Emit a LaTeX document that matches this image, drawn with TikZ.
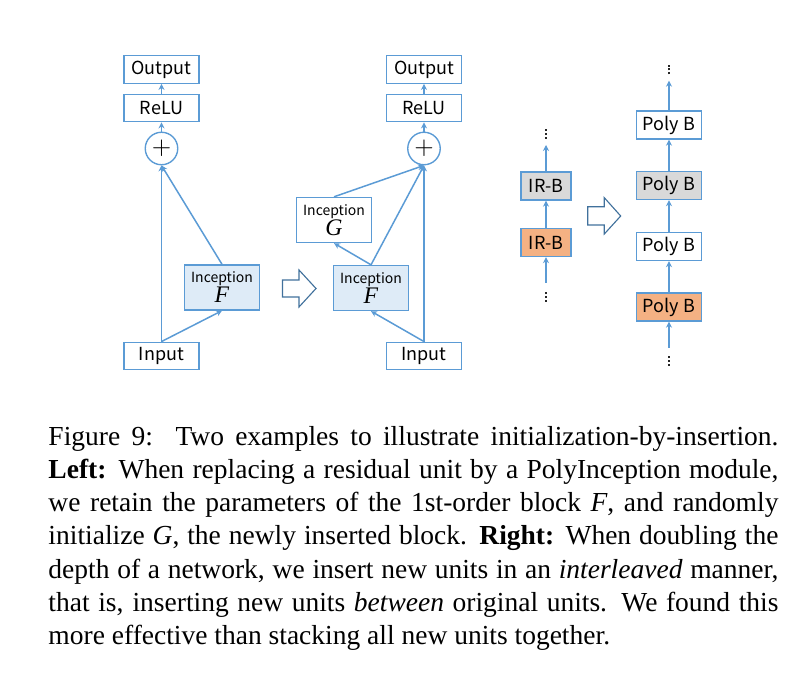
\documentclass[tikz,border=0pt]{standalone}
\usepackage{fontspec}
\setmainfont{Liberation Serif}
\newfontfamily\boxfont{Noto Sans CJK SC}
\usetikzlibrary{arrows.meta}
\definecolor{lblue}{HTML}{5B9BD5}
\definecolor{fillblue}{HTML}{DEEBF7}
\definecolor{fillgray}{HTML}{D9D9D9}
\definecolor{fillorange}{HTML}{F4B183}
\definecolor{hollowedge}{HTML}{41719C}
\newcommand{\mydot}{\hbox{\rule{0.8pt}{0.8pt}}}
\newcommand{\dotcol}{\vbox{\offinterlineskip\mydot\kern0.75pt\mydot\kern0.75pt\mydot}}
\newcommand{\blockletter}[1]{{\rmfamily\itshape\fontsize{9.5}{9.5}\selectfont #1}}
\begin{document}
\begin{tikzpicture}[x=0.4pt,y=-0.4pt,
  blk/.style={draw=lblue, line width=0.55pt, fill=white, inner sep=0pt, font=\boxfont\fontsize{7.2}{8}\selectfont},
  wide/.style={blk, minimum width=30pt, minimum height=11pt},
  poly/.style={blk, minimum width=26pt, minimum height=11.2pt},
  irb/.style={blk, minimum width=20pt, minimum height=11.2pt},
  incep/.style={blk, minimum width=30pt, minimum height=18pt, align=center, font=\boxfont\fontsize{5.6}{6.5}\selectfont},
  plusnode/.style={draw=lblue, line width=0.55pt, fill=white, circle, inner sep=0pt, minimum size=13pt, font=\fontsize{10}{10}\selectfont},
  dotsnode/.style={inner sep=0pt, text=black!85},
  conn/.style={draw=lblue, line width=0.6pt, -{Stealth[length=2.4pt,width=2.4pt]}},
  hollowarrow/.style={draw=hollowedge, line width=0.45pt, fill=white, line join=miter},
]
\useasboundingbox (0,0) rectangle (795,679);

% ---------- left: residual unit ----------
\node[wide] (out1) at (161.5,69.5) {Output};
\node[wide] (relu1) at (161.5,108) {ReLU};
\node[plusnode] (plus1) at (161.5,148.5) {$+$};
\node[incep, fill=fillblue] (F1) at (222,287.5) {Inception\\[-0.5pt]\blockletter{F}};
\node[wide] (in1) at (161.5,356) {Input};
\draw[conn] (in1.north) -- (plus1.south);
\draw[conn] (in1.north) -- (F1.south);
\draw[conn] (F1.north) -- (plus1.south);
\draw[conn] (plus1.north) -- (relu1.south);
\draw[conn] (relu1.north) -- (out1.south);

\draw[hollowarrow] (282.5,280) -- (299,280) -- (299,270) -- (316,288.5) -- (299,307) -- (299,297) -- (282.5,297) -- cycle;

% ---------- middle: PolyInception ----------
\node[wide] (out2) at (424,69.5) {Output};
\node[wide] (relu2) at (424,108) {ReLU};
\node[plusnode] (plus2) at (424,148.5) {$+$};
\node[incep] (G) at (334,220) {Inception\\[-0.5pt]\blockletter{G}};
\node[incep, fill=fillblue] (F2) at (371,288) {Inception\\[-0.5pt]\blockletter{F}};
\node[wide] (in2) at (424,356) {Input};
\draw[conn] (in2.north) -- (plus2.south);
\draw[conn] (in2.north) -- (F2.south);
\draw[conn] (F2.north) -- (plus2.south);
\draw[conn] (F2.north) -- (G.south);
\draw[conn] (G.north) -- (plus2.south);
\draw[conn] (plus2.north) -- (relu2.south);
\draw[conn] (relu2.north) -- (out2.south);

% ---------- right: interleaved insertion ----------
\node[dotsnode] (d1) at (546,134) {\dotcol};
\node[irb, fill=fillgray] (ir2) at (546,186) {IR-B};
\node[irb, fill=fillorange] (ir1) at (546,242.5) {IR-B};
\node[dotsnode] (d2) at (546,297) {\dotcol};
\coordinate (c1) at (546,145);
\coordinate (c2) at (546,283);
\draw[conn] (ir2.north) -- (c1);
\draw[conn] (ir1.north) -- (ir2.south);
\draw[conn] (c2) -- (ir1.south);

\draw[hollowarrow] (587.7,206.7) -- (604.3,206.7) -- (604.3,197.7) -- (620.7,216) -- (604.3,234) -- (604.3,225) -- (587.7,225) -- cycle;

\node[dotsnode] (d3) at (669,69.5) {\dotcol};
\node[poly] (p4) at (669,125) {Poly B};
\node[poly, fill=fillgray] (p3) at (669,185.5) {Poly B};
\node[poly] (p2) at (669,246.5) {Poly B};
\node[poly, fill=fillorange] (p1) at (669,307) {Poly B};
\node[dotsnode] (d4) at (669,361) {\dotcol};
\coordinate (c3) at (669,80.7);
\coordinate (c4) at (669,348);
\draw[conn] (p4.north) -- (c3);
\draw[conn] (p3.north) -- (p4.south);
\draw[conn] (p2.north) -- (p3.south);
\draw[conn] (p1.north) -- (p2.south);
\draw[conn] (c4) -- (p1.south);

% ---------- caption ----------
\node[anchor=base west, inner sep=0pt, text width=292pt, align=justify, font=\fontsize{11}{13.3}\selectfont] (cap) at (48,445)
{Figure 9:\ \ Two examples to illustrate initialization-by-insertion.\linebreak
\textbf{Left:} When replacing a residual unit by a PolyInception module,\linebreak
we retain the parameters of the 1st-order block \textit{F}, and randomly\linebreak
initialize \textit{G}, the newly inserted block. \textbf{Right:} When doubling the\linebreak
depth of a network, we insert new units in an \textit{interleaved} manner,\linebreak
that is, inserting new units \textit{between} original units. We found this\linebreak
more effective than stacking all new units together.};
\end{tikzpicture}
\end{document}
